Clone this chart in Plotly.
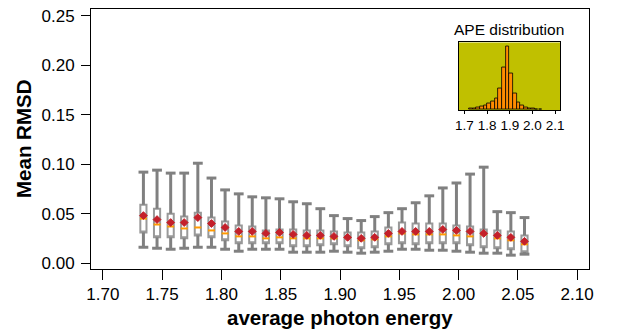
import plotly.graph_objects as go

# ---- main chart data ----
ape = [1.7342, 1.7457, 1.7572, 1.7686, 1.7801, 1.7916, 1.8031, 1.8146, 1.8260, 1.8375,
       1.8490, 1.8605, 1.8720, 1.8834, 1.8949, 1.9064, 1.9179, 1.9293, 1.9408, 1.9523,
       1.9638, 1.9753, 1.9867, 1.9982, 2.0097, 2.0212, 2.0327, 2.0441, 2.0556]
whisk_hi = [0.092, 0.094, 0.091, 0.091, 0.101, 0.086, 0.074, 0.070, 0.067, 0.066,
            0.065, 0.062, 0.060, 0.055, 0.048, 0.045, 0.043, 0.047, 0.051, 0.055,
            0.061, 0.068, 0.076, 0.081, 0.090, 0.097, 0.052, 0.051, 0.046]
q3 = [0.059, 0.055, 0.050, 0.047, 0.051, 0.046, 0.042, 0.038, 0.037, 0.033,
      0.034, 0.034, 0.033, 0.033, 0.032, 0.031, 0.031, 0.032, 0.036, 0.041,
      0.040, 0.040, 0.040, 0.038, 0.037, 0.034, 0.033, 0.032, 0.028]
median = [0.045, 0.039, 0.037, 0.035, 0.036, 0.033, 0.030, 0.027, 0.027, 0.025,
          0.026, 0.025, 0.025, 0.025, 0.025, 0.026, 0.023, 0.024, 0.027, 0.030,
          0.029, 0.029, 0.029, 0.028, 0.027, 0.029, 0.025, 0.023, 0.019]
q1 = [0.031, 0.026, 0.026, 0.025, 0.028, 0.026, 0.023, 0.020, 0.020, 0.020,
      0.020, 0.017, 0.017, 0.018, 0.019, 0.017, 0.015, 0.016, 0.019, 0.020,
      0.019, 0.020, 0.020, 0.020, 0.018, 0.016, 0.015, 0.014, 0.011]
whisk_lo = [0.016, 0.015, 0.014, 0.015, 0.016, 0.016, 0.014, 0.012, 0.014, 0.014,
            0.014, 0.011, 0.011, 0.011, 0.012, 0.011, 0.010, 0.011, 0.012, 0.014,
            0.014, 0.013, 0.013, 0.012, 0.011, 0.010, 0.010, 0.008, 0.009]
mean = [0.048, 0.044, 0.041, 0.041, 0.046, 0.040, 0.036, 0.032, 0.032, 0.030,
        0.031, 0.029, 0.028, 0.028, 0.027, 0.026, 0.025, 0.026, 0.030, 0.032,
        0.032, 0.032, 0.034, 0.033, 0.032, 0.030, 0.028, 0.026, 0.022]

x_ticks = [1.70, 1.75, 1.80, 1.85, 1.90, 1.95, 2.00, 2.05, 2.10]
y_ticks = [0.00, 0.05, 0.10, 0.15, 0.20, 0.25]

# ---- inset histogram data ----
hist_centers = [1.7286, 1.7447, 1.7608, 1.7769, 1.7930, 1.8092, 1.8253, 1.8414, 1.8575, 1.8737,
                1.8898, 1.9059, 1.9220, 1.9381, 1.9543, 1.9704, 1.9865, 2.0026, 2.0187, 2.0349]
hist_counts = [3, 4, 6, 9, 13, 19, 24, 35, 64, 126,
               189, 110, 49, 23, 13, 7, 5, 3, 2, 1]
hist_bin = 0.01612
inset_ticks = [1.7, 1.8, 1.9, 2.0, 2.1]

FONT = "Liberation Sans, Arial, sans-serif"
GRAY = "#808080"
BOXGRAY = "#999999"
ORANGE = "#FF9A00"
RED = "#C4202A"

fig = go.Figure()

# whiskers (outside the boxes)
wx, wy = [], []
for x, lo, a, b, hi in zip(ape, whisk_lo, q1, q3, whisk_hi):
    wx += [x, x, None, x, x, None]
    wy += [b, hi, None, lo, a, None]
fig.add_trace(go.Scatter(x=wx, y=wy, mode="lines", line=dict(color=GRAY, width=3),
                         hoverinfo="skip", showlegend=False))
# whisker caps
fig.add_trace(go.Scatter(x=ape + ape, y=whisk_hi + whisk_lo, mode="markers",
                         marker=dict(symbol="line-ew", size=7, line=dict(color=GRAY, width=3)),
                         showlegend=False))
# boxes
fig.add_trace(go.Box(x=ape, q1=q1, median=q1, q3=q3, lowerfence=q1, upperfence=q3,
                     fillcolor="white", line=dict(color=BOXGRAY, width=2),
                     width=0.0052, whiskerwidth=0, showlegend=False, boxpoints=False))
# median
fig.add_trace(go.Scatter(x=ape, y=median, mode="markers",
                         marker=dict(symbol="line-ew", size=5, line=dict(color=ORANGE, width=2)),
                         showlegend=False))
# mean
fig.add_trace(go.Scatter(x=ape, y=mean, mode="markers",
                         marker=dict(symbol="diamond", size=6, color=RED,
                                     line=dict(color=RED, width=1)),
                         showlegend=False))

# inset histogram
fig.add_trace(go.Bar(x=hist_centers, y=hist_counts, width=hist_bin, xaxis="x2", yaxis="y2",
                     marker=dict(color="#FF8C00", line=dict(color="black", width=0.8)),
                     showlegend=False))

fig.add_shape(type="rect", xref="x2 domain", yref="y2 domain", x0=0, x1=1, y0=0, y1=1,
              fillcolor="#C0C000", line=dict(width=0), layer="below")

fig.update_layout(
    width=624, height=330,
    margin=dict(l=91, r=35, t=7, b=61),
    paper_bgcolor="white", plot_bgcolor="rgba(0,0,0,0)",
    font=dict(family=FONT, color="black"),
    xaxis=dict(range=[1.690, 2.110], tickvals=x_ticks, ticktext=[f"{v:.2f}" for v in x_ticks],
               showline=True, mirror=True, linecolor="black", linewidth=1,
               ticks="outside", ticklen=10, tickwidth=1, tickcolor="black",
               showgrid=False, zeroline=False, tickfont=dict(size=17)),
    yaxis=dict(range=[-0.006, 0.257], tickvals=y_ticks, ticktext=[f"{v:.2f}" for v in y_ticks],
               showline=True, mirror=True, linecolor="black", linewidth=1,
               ticks="outside", ticklen=9, tickwidth=1, tickcolor="black",
               ticklabelstandoff=3,
               showgrid=False, zeroline=False, tickfont=dict(size=17)),
    xaxis2=dict(domain=[0.739, 0.9424], anchor="y2", range=[1.676, 2.123],
                tickvals=inset_ticks, ticktext=[f"{v:.1f}" for v in inset_ticks],
                showline=True, mirror=True, linecolor="black", linewidth=1,
                ticks="outside", ticklen=3, tickwidth=1, tickcolor="black",
                showgrid=False, zeroline=False, tickfont=dict(size=13.5)),
    yaxis2=dict(domain=[0.6118, 0.8714], anchor="x2", range=[-1, 202],
                showline=True, mirror=True, linecolor="black", linewidth=1,
                showticklabels=False, ticks="", showgrid=False, zeroline=False),
    bargap=0,
    annotations=[
        dict(text="<b>average photon energy</b>", xref="paper", yref="paper",
             x=0.5, y=-49/262, xanchor="center", yanchor="middle", showarrow=False,
             font=dict(size=20.5)),
        dict(text="<b>Mean RMSD</b>", xref="paper", yref="paper",
             x=-68/498, y=0.5, xanchor="center", yanchor="middle", showarrow=False,
             textangle=-90, font=dict(size=20.5)),
        dict(text="APE distribution", xref="paper", yref="paper",
             x=(509 - 91) / 498, y=(269 - 28) / 262, xanchor="center", yanchor="middle",
             showarrow=False, font=dict(size=15.5)),
    ],
)

fig.write_html("out.html")
